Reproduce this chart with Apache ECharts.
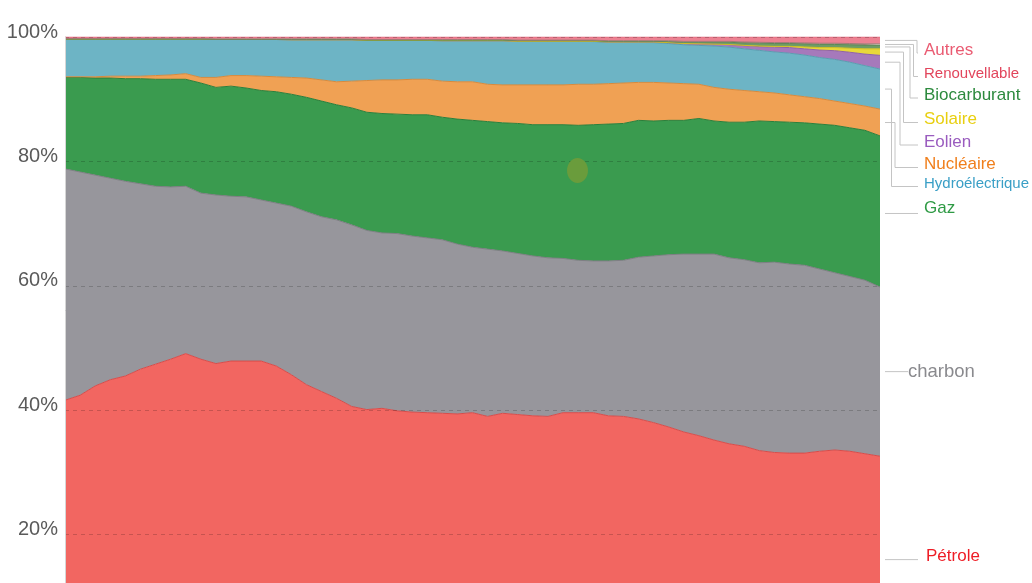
<!DOCTYPE html>
<html><head><meta charset="utf-8">
<script src="https://cdn.jsdelivr.net/npm/echarts@6/dist/echarts.min.js"></script>
<style>html,body{margin:0;padding:0;background:#fff}#c{width:1032px;height:583px}</style>
</head><body><div id="c"></div>
<script>
const years = [];
for (let y = 1965; y <= 2019; y++) years.push(String(y));

const yTicks = [0, 20, 40, 60, 80, 100];

const petrole = [41.6,42.4,43.9,44.9,45.5,46.6,47.4,48.2,49.1,48.2,47.5,47.9,47.9,47.9,47.1,45.7,44.1,43.0,41.9,40.6,40.1,40.3,39.9,39.7,39.6,39.5,39.4,39.6,39.0,39.5,39.3,39.1,39.0,39.6,39.6,39.6,39.1,39.0,38.6,38.0,37.3,36.5,35.9,35.2,34.6,34.2,33.5,33.2,33.1,33.1,33.4,33.6,33.4,33.0,32.6];
const charbon = [37.2,35.9,33.9,32.4,31.3,29.8,28.6,27.7,26.9,26.7,27.1,26.5,26.4,25.9,26.2,27.1,27.8,28.1,28.7,29.2,28.8,28.2,28.5,28.3,28.1,27.9,27.3,26.6,26.9,26.1,25.9,25.7,25.5,24.8,24.5,24.4,24.9,25.1,26.0,26.8,27.7,28.6,29.2,29.9,29.9,30.0,30.2,30.6,30.4,30.2,29.3,28.5,28.1,27.9,27.2];
const gaz = [14.7,15.2,15.6,16.1,16.5,16.9,17.2,17.3,17.2,17.7,17.3,17.7,17.5,17.6,17.9,18.0,18.4,18.6,18.5,18.8,19.0,19.2,19.2,19.5,19.8,19.7,20.1,20.4,20.5,20.6,20.9,21.1,21.4,21.5,21.7,21.9,22.0,22.0,22.0,21.7,21.6,21.5,21.8,21.4,21.8,22.1,22.8,22.6,22.8,22.9,23.3,23.7,23.9,24.1,24.3];
const nucleaire = [0.1,0.1,0.2,0.3,0.4,0.4,0.6,0.7,0.9,0.9,1.6,1.7,2.0,2.3,2.4,2.7,3.1,3.4,3.7,4.3,5.1,5.4,5.5,5.7,5.7,5.8,6.0,6.2,6.0,6.1,6.2,6.4,6.4,6.4,6.6,6.5,6.5,6.5,6.1,6.2,6.0,5.9,5.5,5.4,5.3,5.1,4.7,4.6,4.4,4.2,4.1,3.9,3.9,3.9,4.3];
const hydro = [6.05,6.05,6.05,5.95,5.95,5.95,5.85,5.75,5.55,6.15,6.1,5.8,5.8,5.9,6.0,6.05,6.15,6.45,6.75,6.65,6.45,6.35,6.35,6.25,6.25,6.5,6.6,6.6,7.0,7.1,7.0,7.0,7.0,7.0,6.9,6.87,6.66,6.55,6.43,6.4,6.35,6.25,6.25,6.65,6.78,6.7,6.65,6.6,6.7,6.7,6.6,6.7,6.65,6.5,6.45];
const eolien = [0,0,0,0,0,0,0,0,0,0,0,0,0,0,0,0,0,0,0,0,0,0,0,0,0,0,0,0,0,0,0,0,0,0,0,0.03,0.04,0.05,0.07,0.1,0.15,0.2,0.25,0.3,0.4,0.5,0.6,0.75,0.9,1.0,1.2,1.4,1.6,1.85,2.2];
const solaire = [0,0,0,0,0,0,0,0,0,0,0,0,0,0,0,0,0,0,0,0,0,0,0,0,0,0,0,0,0,0,0,0,0,0,0,0,0,0,0,0,0,0,0,0,0.02,0.05,0.1,0.15,0.2,0.3,0.4,0.5,0.65,0.85,1.05];
const biocarburant = [0,0,0,0,0,0,0,0,0,0,0,0,0,0,0,0.05,0.05,0.05,0.05,0.05,0.05,0.05,0.05,0.05,0.05,0.1,0.1,0.1,0.1,0.1,0.1,0.1,0.1,0.1,0.1,0.1,0.1,0.1,0.1,0.1,0.15,0.2,0.25,0.3,0.35,0.4,0.45,0.45,0.45,0.5,0.5,0.5,0.55,0.6,0.6];
const renouvelable = [0.1,0.1,0.1,0.1,0.1,0.1,0.1,0.1,0.1,0.1,0.1,0.1,0.1,0.1,0.1,0.1,0.1,0.1,0.1,0.1,0.1,0.1,0.1,0.1,0.1,0.1,0.1,0.1,0.1,0.1,0.1,0.1,0.1,0.1,0.1,0.1,0.1,0.1,0.1,0.1,0.15,0.15,0.15,0.15,0.15,0.15,0.15,0.15,0.15,0.15,0.2,0.2,0.2,0.2,0.2];
const autres = [0.25,0.25,0.25,0.25,0.25,0.25,0.25,0.25,0.25,0.25,0.3,0.3,0.3,0.3,0.3,0.3,0.3,0.3,0.3,0.3,0.4,0.4,0.4,0.4,0.4,0.4,0.4,0.4,0.4,0.4,0.5,0.5,0.5,0.5,0.5,0.5,0.6,0.6,0.6,0.6,0.6,0.7,0.7,0.7,0.7,0.8,0.85,0.9,0.9,0.95,1.0,1.0,1.05,1.1,1.1];

const seriesDefs = [
  {name:'Pétrole', data:petrole, fill:'#f26661', line:'#d84c4a', label:'#ee1c25', ly:556, lx:926, fs:17},
  {name:'charbon', data:charbon, fill:'#97969c', line:'#7f7e84', label:'#8a8a8e', ly:372, lx:908, fs:18.5},
  {name:'Gaz', data:gaz, fill:'#3a9b4f', line:'#2b7f3b', label:'#2e9a44', ly:208, lx:924, fs:17, ex:null},
  {name:'Nucléaire', data:nucleaire, fill:'#f0a154', line:'#d88a3c', label:'#f07f1c', ly:164.5, lx:924, fs:17, ex:895},
  {name:'Hydroélectrique', data:hydro, fill:'#6db4c5', line:'#5a9db0', label:'#3a9fc6', ly:183.5, lx:924, fs:15, ex:891.5},
  {name:'Eolien', data:eolien, fill:'#a679bb', line:'#8f62a5', label:'#9a5cbf', ly:142, lx:924, fs:17, ex:900},
  {name:'Solaire', data:solaire, fill:'#e8d83a', line:'#d0c020', label:'#e8cf10', ly:119.5, lx:924, fs:17, ex:903.5},
  {name:'Biocarburant', data:biocarburant, fill:'#6d9c66', line:'#5a8a55', label:'#2d8a3e', ly:95, lx:924, fs:17, ex:910},
  {name:'Renouvellable', data:renouvelable, fill:'#b08a85', line:'#a07a75', label:'#e2455c', ly:73.5, lx:924, fs:15, ex:913.5},
  {name:'Autres', data:autres, fill:'#ec8192', line:'#e06a7d', label:'#ea5b72', ly:50, lx:924, fs:17, ex:917}
];

const chart = echarts.init(document.getElementById('c'), null, {renderer:'canvas'});

chart.setOption({
  animation: false,
  backgroundColor: '#fff',
  grid: {left: 65, top: 37, width: 815, height: 622, containLabel: false, outerBoundsMode: 'none'},
  xAxis: {type:'category', data: years, boundaryGap:false, show:false},
  yAxis: {
    type:'value', min: yTicks[0], max: yTicks[yTicks.length-1], interval: 20, z: 5,
    axisLine:{show:true, lineStyle:{color:'#d6d6d6', width:1}},
    axisTick:{show:false},
    axisLabel:{formatter:'{value}%', fontSize:20, color:'#5a5a5a', fontFamily:'Liberation Sans, Arial, sans-serif', margin:7, verticalAlign:'bottom', lineHeight:10},
    splitLine:{show:true, lineStyle:{type:[4,4], color:'rgba(0,0,0,0.18)', width:1}}
  },
  series: seriesDefs.map(s => ({
    name: s.name, type:'line', stack:'total', data: s.data, symbol:'none', smooth:false,
    lineStyle:{width:1, color:s.line}, areaStyle:{color:s.fill, opacity:1}, itemStyle:{color:s.fill}, z:2
  }))
});

const last = years.length - 1;
const graphics = [];
let cum = 0;
const xEnd = chart.convertToPixel({gridIndex:0}, [last, 0])[0];
seriesDefs.forEach(s => {
  const v = s.data[last];
  const mid = cum + v/2; cum += v;
  const yMid = chart.convertToPixel({gridIndex:0}, [last, mid])[1];
  let pts;
  if (s.ex) {
    pts = [[xEnd+5, yMid], [s.ex, yMid], [s.ex, s.ly+3], [918, s.ly+3]];
  } else if (s.name === 'charbon') {
    pts = [[xEnd+5, yMid], [xEnd+28, yMid]];
  } else {
    pts = [[xEnd+5, yMid+2], [xEnd+38, yMid+2]];
  }
  graphics.push({type:'polyline', shape:{points:pts}, style:{stroke:'#c4c4c4', lineWidth:1, fill:null}, z:10});
  graphics.push({type:'text', x:s.lx, y:s.ly, style:{text:s.name, fill:s.label, fontSize:s.fs, fontFamily:'Liberation Sans, Arial, sans-serif', verticalAlign:'middle', align:'left'}, z:11});
});
graphics.push({type:'ellipse', shape:{cx:577.5, cy:170.5, rx:10.5, ry:12.5}, style:{fill:'#6a9c3c'}, z:10});
chart.setOption({graphic: graphics});
</script></body></html>
